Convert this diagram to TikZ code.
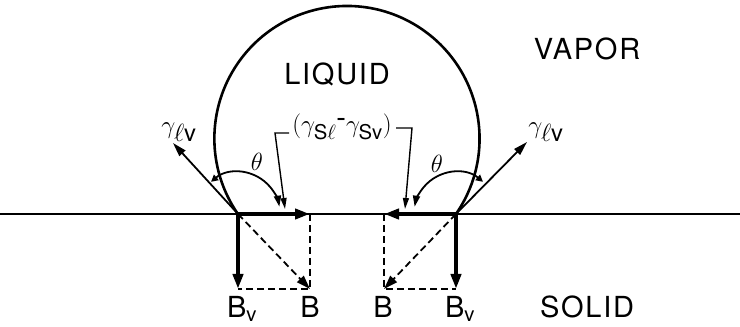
\documentclass[tikz,border=0pt]{standalone}
\usepackage{fontspec}
\setmainfont{TeX Gyre Heros}
\newfontfamily\widefont{TeX Gyre Heros}[LetterSpace=6]
\usetikzlibrary{arrows.meta,calc}
\begin{document}
\begin{tikzpicture}[x=1pt,y=1pt,
  base/.style={line width=2.6pt},
  thinline/.style={line width=1.8pt},
  vec/.style={line width=3.8pt,-{Triangle[length=15pt,width=10pt]}},
  dashline/.style={line width=1.8pt,dash pattern=on 7pt off 4pt},
  dashvec/.style={dashline,-{Triangle[length=14pt,width=9pt]}},
  gvec/.style={thinline,-{Triangle[length=14pt,width=8pt]}},
  thetaarc/.style={thinline,{Triangle[length=7pt,width=7pt]}-{Triangle[length=11pt,width=7pt]}},
  leader/.style={line width=1.4pt,-{Triangle[length=11pt,width=6pt]}},
  lbl/.style={font=\fontsize{29}{33}\selectfont, inner sep=0pt},
  glbl/.style={font=\fontsize{34}{38}\selectfont, inner sep=0pt},
  word/.style={font=\fontsize{29}{33}\selectfont\widefont, inner sep=0pt}]
\useasboundingbox (0,0) rectangle (740,327);
% contact points and vector ends
\coordinate (W) at (0,113);
\coordinate (E) at (740,113);
\coordinate (L) at (238,113);
\coordinate (R) at (456,113);
\coordinate (Lh) at (310,113);
\coordinate (Ld) at (238,38);
\coordinate (Lc) at (310,38);
\coordinate (Rh) at (384,113);
\coordinate (Rd) at (456,38);
\coordinate (Rc) at (384,38);
\coordinate (Lg) at (173,184);
\coordinate (Rg) at (527,185);
% solid surface
\draw[base] (W) -- (E);
% drop
\draw[base] (R) arc[start angle=-34.67,end angle=214.67,radius=132.6];
% left construction
\draw[vec] (L) -- (Lh);
\draw[vec] (L) -- (Ld);
\draw[dashline] (Lh) -- (Lc) -- (Ld);
\draw[dashvec] (L) -- (Lc);
\draw[gvec] (L) -- (Lg);
\draw[thetaarc] ($(L)+(130:42)$) arc[start angle=130,end angle=10,radius=42];
% right construction
\draw[vec] (R) -- (Rh);
\draw[vec] (R) -- (Rd);
\draw[dashline] (Rh) -- (Rc) -- (Rd);
\draw[dashvec] (R) -- (Rc);
\draw[gvec] (R) -- (Rg);
\draw[thetaarc] ($(R)+(50:42)$) arc[start angle=50,end angle=170,radius=42];
% labels
\node[word] (liq) at (337,253) {LIQUID};
\node[word] (vap) at (587,278) {VAPOR};
\node[word] (sol) at (587,20) {SOLID};
\node[glbl] (gl) at (179,195) {$\gamma_{\ell\mathrm{v}}$};
\node[glbl] (gr) at (546,195) {$\gamma_{\ell\mathrm{v}}$};
\node[glbl] (tl) at (257,165) {$\theta$};
\node[glbl] (tr) at (437,163) {$\theta$};
\node[lbl] (bvl) at (242,18) {B$_{\mathrm{v}}$};
\node[lbl] (bl) at (310,20) {B};
\node[lbl] (br) at (383,20) {B};
\node[lbl] (bvr) at (460,18) {B$_{\mathrm{v}}$};
\node[lbl] (dg) at (342,200) {$(\gamma_{\mathrm{S}\ell}$\raisebox{5pt}{-}$\gamma_{\mathrm{Sv}})$};
% leaders
\coordinate (la) at (289,194);
\coordinate (lb) at (275,194);
\coordinate (lt) at (285,118);
\coordinate (ra) at (396,199);
\coordinate (rb) at (412,199);
\coordinate (rt) at (405,118);
\draw[leader] (la) -- (lb) -- (lt);
\draw[leader] (ra) -- (rb) -- (rt);
\end{tikzpicture}
\end{document}
